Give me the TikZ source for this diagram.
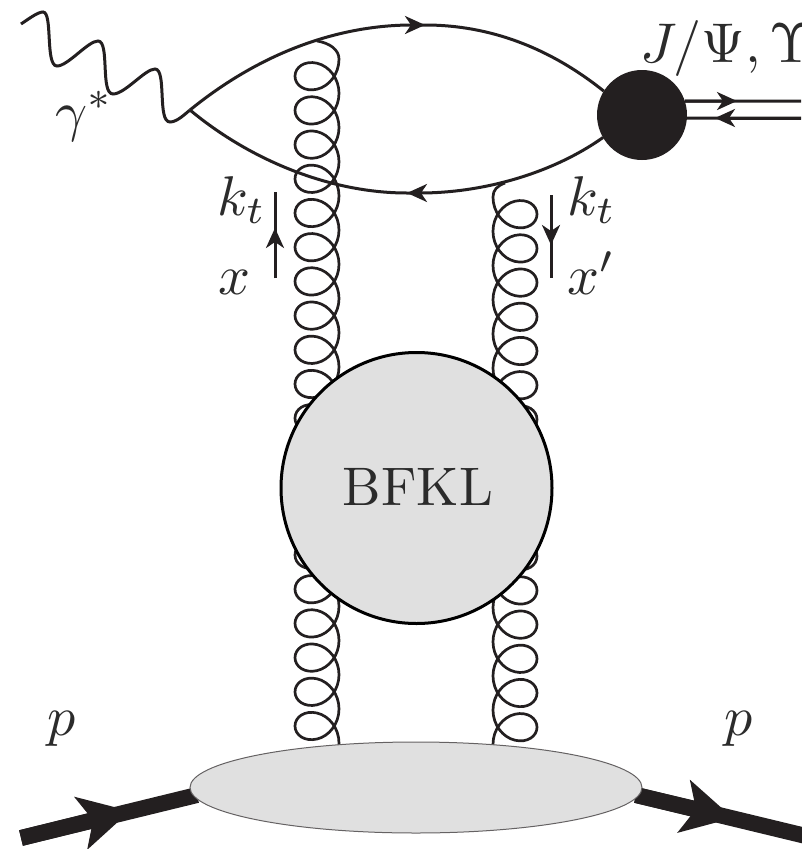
\documentclass[tikz,border=0pt]{standalone}
\usetikzlibrary{arrows.meta,decorations.pathmorphing,shapes.geometric}
\definecolor{ink}{HTML}{231F20}
\definecolor{txt}{HTML}{2B2B2B}
\definecolor{blobgray}{HTML}{E0E0E0}
\tikzset{
  line/.style={draw=ink,line width=3pt},
  tipq/.style={-{Stealth[length=20pt,width=18pt,inset=6pt]}},
  gluon/.style={draw=ink,line width=2.7pt,decorate,
    decoration={coil,amplitude=22pt,segment length=34.2pt,aspect=0.98}},
  gluonm/.style={draw=ink,line width=2.7pt,decorate,
    decoration={coil,mirror,amplitude=22pt,segment length=34.2pt,aspect=0.98}},
  gluonend/.style={draw=ink,line width=2.7pt},
  proton/.style={draw=ink,line width=16pt},
  tipp/.style={-{Stealth[length=50pt,width=53pt,inset=12pt]}},
  lab/.style={text=txt,inner sep=0pt,anchor=base west,scale=5.6,transform shape},
}
\begin{document}
\begin{tikzpicture}[x=1pt,y=-1pt]
\useasboundingbox (0,0) rectangle (801,849);
% anchor points
\coordinate (v) at (190,110);
\coordinate (phs) at (21,24);
\coordinate (qt) at (425,25);
\coordinate (qb) at (407,193);
\coordinate (gLt) at (317,41);
\coordinate (gLb) at (339,59);
\coordinate (gRt) at (505,183);
\coordinate (gRb) at (493,197);
\coordinate (cLa) at (317,29);
\coordinate (cLb) at (317,790);
\coordinate (cRa) at (515,167);
\coordinate (cRb) at (515,790);
% gluons
\begin{scope}
\clip (250,59) rectangle (400,746);
\draw[gluon] (cLa) -- (cLb);
\end{scope}
\begin{scope}
\clip (450,197) rectangle (600,746);
\draw[gluonm] (cRa) -- (cRb);
\end{scope}
\draw[gluonend] (gLt) .. controls (330,43) and (339,50) .. (gLb);
\draw[gluonend] (gRt) .. controls (497,186) and (493,190) .. (gRb);
% blobs
\node[circle,draw=black,fill=blobgray,line width=3pt,minimum size=271pt,inner sep=0pt,outer sep=0pt] (bfkl) at (416.5,488) {};
\node[circle,fill=ink,minimum size=90pt,inner sep=0pt,outer sep=0pt] (res) at (642,115) {};
% protons
\coordinate (pi) at (21,838);
\coordinate (pit) at (130,811);
\coordinate (pil) at (197,795);
\coordinate (po) at (636,795);
\coordinate (pot) at (733,818);
\coordinate (pe) at (810,837);
\draw[proton] (pi) -- (pil);
\draw[proton,tipp] (pi) -- (pit);
\draw[proton] (po) -- (pe);
\draw[proton,tipp] (po) -- (pot);
\node[ellipse,draw=ink!70,fill=blobgray,line width=1pt,minimum width=452pt,minimum height=91pt,inner sep=0pt,outer sep=0pt] (pom) at (416,787.5) {};
% quark loop
\draw[line,tipq] (v) .. controls (270,45) and (350,25) .. (qt);
\draw[line] ([xshift=-8pt]qt) -- (qt) .. controls (490,25) and (550,48) .. (res.148);
\draw[line,tipq] (res.210) .. controls (550,175) and (480,193) .. (qb);
\draw[line] ([xshift=8pt]qb) -- (qb) .. controls (330,193) and (250,160) .. (v);
% photon
\draw[line] (phs) .. controls (30,18) and (38,12) .. (43,12)
  .. controls (53,12) and (45,66) .. (57,66)
  .. controls (68,66) and (88,41) .. (98,41)
  .. controls (110,41) and (100,94) .. (113,94)
  .. controls (125,94) and (145,69) .. (155,69)
  .. controls (167,69) and (157,122) .. (170,122)
  .. controls (177,122) and (185,114) .. (v);
% outgoing double line
\coordinate (d1) at (801,101);
\coordinate (d1t) at (737,101);
\coordinate (d2) at (801,118);
\coordinate (d2t) at (715,118);
\draw[line] (res.18) -- (d1);
\draw[line,tipq] (res.18) -- (d1t);
\draw[line] (d2) -- (res.-4);
\draw[line,tipq] (d2) -- (d2t);
% momentum arrows
\coordinate (mLa) at (275,278);
\coordinate (mLt) at (275,228);
\coordinate (mLb) at (275,192);
\coordinate (mRa) at (551,195);
\coordinate (mRt) at (551,245);
\coordinate (mRb) at (551,278);
\draw[line] (mLa) -- (mLb);
\draw[line,tipq] (mLa) -- (mLt);
\draw[line] (mRa) -- (mRb);
\draw[line,tipq] (mRa) -- (mRt);
% labels
\node[lab] (l1) at (216,215) {$k_t$};
\node[lab] (l2) at (566,215) {$k_t$};
\node[lab] (l3) at (217,294) {$x$};
\node[lab] (l4) at (566,294) {$x'$};
\node[lab] (l5) at (54,130) {$\gamma^*$};
\node[lab] (l6) at (639,62) {$J/\Psi,\Upsilon$};
\node[lab] (l7) at (46,735) {$p$};
\node[lab] (l8) at (723,735) {$p$};
\node[lab,anchor=center,scale=0.97] (l9) at (418,487) {BFKL};
\end{tikzpicture}
\end{document}
